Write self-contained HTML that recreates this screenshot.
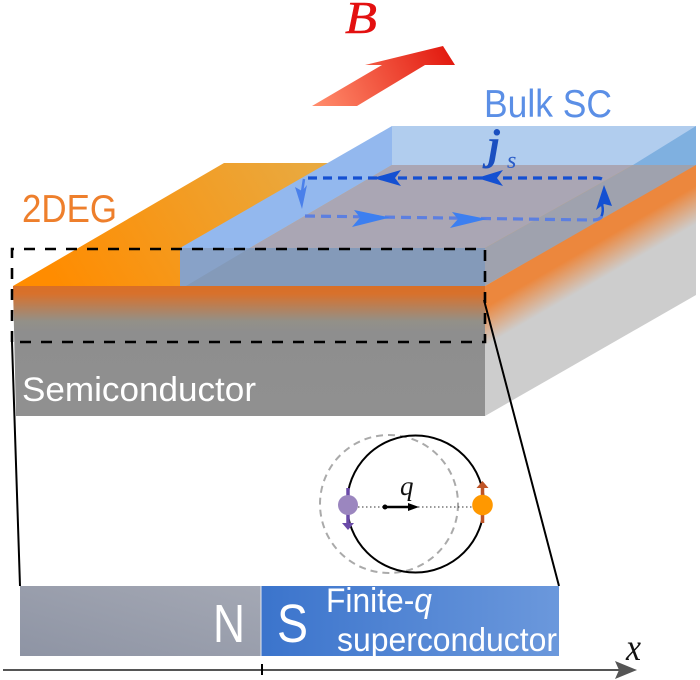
<!DOCTYPE html>
<html><head><meta charset="utf-8"><style>html,body{margin:0;padding:0;background:#fff}svg{display:block}</style></head>
<body>
<svg width="700" height="680" viewBox="0 0 700 680" xmlns="http://www.w3.org/2000/svg">
<defs>
<linearGradient id="o" gradientUnits="userSpaceOnUse" x1="60" y1="290" x2="300" y2="150"><stop offset="0" stop-color="#ff8c00"/><stop offset="1" stop-color="#e9a93f"/></linearGradient>
<linearGradient id="f" x1="0" y1="0" x2="0" y2="1"><stop offset="0" stop-color="#d96f26"/><stop offset=".06" stop-color="#d8712c"/><stop offset=".27" stop-color="#939088"/><stop offset=".36" stop-color="#8e8e8e"/><stop offset="1" stop-color="#909090"/></linearGradient>
<linearGradient id="r" gradientUnits="userSpaceOnUse" x1="485" y1="286" x2="511" y2="331"><stop offset="0" stop-color="#ec873d"/><stop offset=".36" stop-color="#ec873d"/><stop offset="1" stop-color="#cdcdcd"/></linearGradient>
<linearGradient id="b" gradientUnits="userSpaceOnUse" x1="320" y1="110" x2="450" y2="50"><stop offset="0" stop-color="#ff8a6a"/><stop offset="1" stop-color="#e2190f"/></linearGradient>
<linearGradient id="n" x1="0" y1="1" x2="1" y2="0"><stop offset="0" stop-color="#8e94a4"/><stop offset="1" stop-color="#a4a8b4"/></linearGradient>
<linearGradient id="s" x1="0" y1="0" x2="1" y2="0"><stop offset="0" stop-color="#3b74cc"/><stop offset="1" stop-color="#6b98dc"/></linearGradient>
</defs>
<polygon points="485,286 696,163 696,295 485,416" fill="url(#r)"/>
<polygon points="13,286 224,163 696,163 485,286" fill="url(#o)"/>
<polygon points="13,286 485,286 485,416 16,416" fill="url(#f)"/>
<polygon points="180,248 392,126 392,165 250,248" fill="#93b8ee"/>
<polygon points="392,126 696,126 696,165 392,165" fill="#b1cdee"/>
<polygon points="633,165 696,126 696,165" fill="#7fb0e0"/>
<polygon points="250,248 392,165 633,165 485,248" fill="#aaa6b4"/>
<polygon points="485,248 633,165 696,165 485,286" fill="#9fa2ae"/>
<polygon points="180,248 485,248 485,286 180,286" fill="#849ab9"/>
<polygon points="180,248 250,248 186,286 180,286" fill="#88a2c8"/>
<polygon points="312,106 357,106 425,65 455,65 443,46 365,65 382,65" fill="url(#b)"/>
<text x="345" y="33" font-family="Liberation Serif,serif" font-style="italic" font-size="45" fill="#e31010" stroke="#e31010" stroke-width=".5" textLength="32" lengthAdjust="spacingAndGlyphs">B</text>
<text x="484" y="117" font-family="Liberation Sans,sans-serif" font-size="39" fill="#5b8fe6" textLength="128" lengthAdjust="spacingAndGlyphs">Bulk SC</text>
<text x="22" y="222" font-family="Liberation Sans,sans-serif" font-size="39" fill="#ee7f2c" textLength="95" lengthAdjust="spacingAndGlyphs">2DEG</text>
<text x="22" y="401" font-family="Liberation Sans,sans-serif" font-size="34" fill="#fff" textLength="234" lengthAdjust="spacingAndGlyphs">Semiconductor</text>
<text x="488" y="159" font-family="Liberation Serif,serif" font-style="italic" font-weight="bold" font-size="43" fill="#1a4fc0">j</text>
<text x="507" y="168" font-family="Liberation Serif,serif" font-style="italic" font-size="24" fill="#2a5cc8">s</text>
<path d="M308,178 H596 Q603,178 604,181" fill="none" stroke="#1450d2" stroke-width="3.2" stroke-dasharray="9 6"/>
<polygon points="373,178 401,170 395,178 401,186" fill="#1450d2"/>
<polygon points="477,178 503,170 497,178 503,186" fill="#1450d2"/>
<polygon points="604,185 612,206 604,204 596,210" fill="#1450d2"/>
<path d="M602,204 Q604,212 601,217" fill="none" stroke="#1450d2" stroke-width="2.5"/>
<path d="M305,216 L592,220 Q600,220 602,216" fill="none" stroke="#5c7fe0" stroke-width="3.2" stroke-dasharray="10 6"/>
<polygon points="390,217.5 352,227 360,217.5 354,210" fill="#3d7ff0"/>
<polygon points="487,219 450,228 458,219 452,212" fill="#3d7ff0"/>
<polygon points="302,209 295,187 302,191 307,185" fill="#4a80ea"/>
<path d="M302,192 L304,179" stroke="#4a80ea" stroke-width="2.5" fill="none"/>
<path d="M12,342 V249 H485 V342 H12" fill="none" stroke="#000" stroke-width="2.6" stroke-dasharray="11 10"/>
<path d="M12,342 L20,586 M484,300 L559,586" fill="none" stroke="#000" stroke-width="2"/>
<circle cx="389" cy="504" r="69" fill="none" stroke="#aaa" stroke-width="2" stroke-dasharray="7 5"/>
<circle cx="415.5" cy="504" r="68.5" fill="none" stroke="#000" stroke-width="2"/>
<path d="M358,507 H473" stroke="#333" stroke-width="1" stroke-dasharray="1.5 2.5"/>
<path d="M385,507 H412" stroke="#000" stroke-width="2.5"/>
<circle cx="385" cy="507" r="2.5"/>
<polygon points="419,507 408,503 408,511"/>
<text x="400" y="495" font-family="Liberation Serif,serif" font-style="italic" font-size="27" fill="#111">q</text>
<path d="M348,488 V524" stroke="#6a4aa8" stroke-width="3.5"/>
<polygon points="342,523 354,523 348,530" fill="#6a4aa8"/>
<circle cx="348" cy="505" r="10" fill="#9b86bf"/>
<path d="M482.5,486 V523" stroke="#bf5426" stroke-width="3.5"/>
<polygon points="476.5,488 488.5,488 482.5,481" fill="#bf5426"/>
<circle cx="482.5" cy="505" r="10.3" fill="#ff9800"/>
<rect x="20" y="586" width="241" height="70" fill="url(#n)"/>
<rect x="261" y="586" width="298" height="70" fill="url(#s)"/>
<path d="M261,586 V656" stroke="#e4e8f0" stroke-width="1"/>
<text x="213" y="642" font-family="Liberation Sans,sans-serif" font-size="54" fill="#fff" textLength="32" lengthAdjust="spacingAndGlyphs">N</text>
<text x="277" y="642" font-family="Liberation Sans,sans-serif" font-size="54" fill="#fff" textLength="31" lengthAdjust="spacingAndGlyphs">S</text>
<text x="326" y="612" font-family="Liberation Sans,sans-serif" font-size="34" fill="#fff" textLength="106" lengthAdjust="spacingAndGlyphs">Finite-<tspan font-style="italic">q</tspan></text>
<text x="337" y="651" font-family="Liberation Sans,sans-serif" font-size="33" fill="#fff" textLength="220" lengthAdjust="spacingAndGlyphs">superconductor</text>
<path d="M3,670 H620" stroke="#555" stroke-width="2"/>
<polygon points="637,670 615,661 619,670 615,679" fill="#555"/>
<path d="M262,664 V675" stroke="#000" stroke-width="2"/>
<text x="626" y="660" font-family="Liberation Serif,serif" font-style="italic" font-size="38" fill="#111" textLength="15" lengthAdjust="spacingAndGlyphs">x</text>
</svg>
</body></html>
